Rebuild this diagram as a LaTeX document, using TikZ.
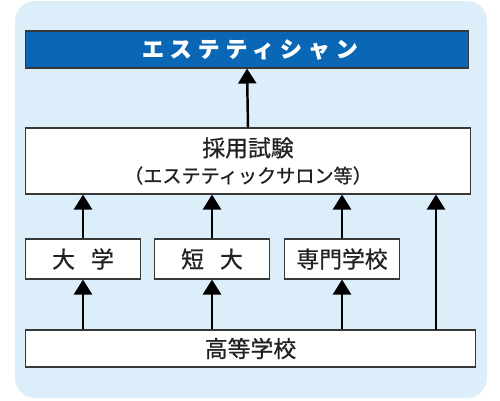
\documentclass[tikz,border=0pt]{standalone}
\usepackage{fontspec}
\setmainfont{Noto Sans CJK JP}
\usepackage{tikz}
\usetikzlibrary{arrows.meta,positioning}
\definecolor{bgblue}{HTML}{DDEEFB}
\definecolor{titleblue}{HTML}{0A67B5}
\definecolor{ink}{HTML}{222222}
\tikzset{
  stage/.style={draw=ink!90,line width=0.6pt,fill=white,inner sep=0pt,text=ink,
    font=\fontsize{13pt}{16pt}\selectfont\addfontfeature{FakeBold=0.8}},
  up/.style={-{Triangle[width=3.6mm,length=3mm]},line width=1.4pt,draw=black}
}
\begin{document}
\begin{tikzpicture}[x=0.02cm,y=-0.02cm]
\useasboundingbox (0,0) rectangle (500,400);
% background panel
\fill[bgblue,rounded corners=0.4cm] (15,1) rectangle (487,398);
% stages
\node[stage,fill=titleblue,minimum width=8.88cm,minimum height=0.74cm,text=white,
  font=\fontsize{12.5pt}{14pt}\selectfont\bfseries\addfontfeature{LetterSpace=27,FakeBold=0.6}] (title) at (247,49.5) {\hspace{0.25em}エステティシャン};
\node[stage,minimum width=8.92cm,minimum height=1.32cm,align=center] (exam) at (248,161)
  {採用試験\\[-1pt]{\fontsize{10.9pt}{12pt}\selectfont （エステティックサロン等）}};
\node[stage,minimum width=2.3cm,minimum height=0.8cm] (univ) at (83,259) {大\hspace{0.7em}学};
\node[stage,minimum width=2.3cm,minimum height=0.8cm] (junior) at (212,259) {短\hspace{0.7em}大};
\node[stage,minimum width=2.3cm,minimum height=0.8cm] (senmon) at (342,259) {専門学校};
\node[stage,minimum width=9.02cm,minimum height=0.74cm] (high) at (250.5,348.5) {高等学校};
\coordinate (direct) at (436,330);
% arrows
\draw[up] (exam.north) -- (title.south);
\foreach \s in {univ,junior,senmon}{
  \draw[up] (high.north -| \s.south) -- (\s.south);
  \draw[up] (\s.north) -- (exam.south -| \s.north);
}
\draw[up] (direct) -- (direct |- exam.south);
\end{tikzpicture}
\end{document}
